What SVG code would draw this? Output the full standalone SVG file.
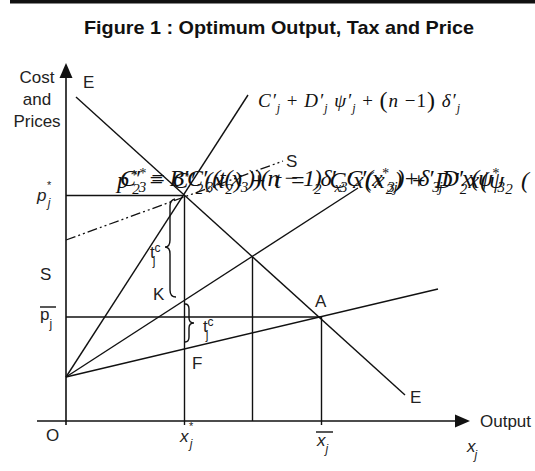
<svg xmlns="http://www.w3.org/2000/svg" width="535" height="471" viewBox="0 0 535 471">
<style>
.ln{stroke:#111;stroke-width:1.4;fill:none}
.ax{stroke:#111;stroke-width:1.6;fill:none}
.dd{stroke:#111;stroke-width:1.3;fill:none;stroke-dasharray:10 3 2 3 2 3}
.s{font-family:"Liberation Sans",Arial,sans-serif;font-size:17px;fill:#222}
.si{font-family:"Liberation Sans",Arial,sans-serif;font-size:17px;font-style:italic;fill:#222}
.m{font-family:"Liberation Serif","Times New Roman",serif;font-style:italic;font-size:19px;fill:#111}
.g{font-family:"Liberation Serif","Times New Roman",serif;font-style:italic;font-size:24px;fill:#111}
.t{font-family:"Liberation Sans",Arial,sans-serif;font-weight:bold;font-size:19px;fill:#111}
</style>
<rect x="10" y="0" width="525" height="3.5" fill="#111"/>
<text class="t" x="84" y="34" textLength="390" lengthAdjust="spacingAndGlyphs">Figure 1 : Optimum Output, Tax and Price</text>

<g id="connectors">
  <line class="ax" x1="66" y1="76" x2="66" y2="425"/>
  <polygon points="66,63 59.5,78 72.5,78" fill="#111"/>
  <line class="ax" x1="37" y1="421" x2="457" y2="421"/>
  <polygon points="470,421 455,414.5 455,427.5" fill="#111"/>
  <line class="ln" x1="184.5" y1="421" x2="184.5" y2="425"/>
  <line class="ln" x1="321.5" y1="421" x2="321.5" y2="425"/>
  <line class="ln" x1="76" y1="97" x2="405" y2="395"/>
  <line class="ln" x1="66" y1="377" x2="248" y2="95"/>
  <line class="ln" x1="66" y1="377" x2="358" y2="188"/>
  <line class="ln" x1="66" y1="377" x2="438" y2="289"/>
  <line class="dd" x1="66" y1="240" x2="283" y2="161"/>
  <line class="ln" x1="66" y1="195.5" x2="184.5" y2="195.5"/>
  <line class="ln" x1="66" y1="317" x2="321.5" y2="317"/>
  <line class="ln" x1="184.5" y1="195.5" x2="184.5" y2="421"/>
  <line class="ln" x1="252.5" y1="257" x2="252.5" y2="421"/>
  <line class="ln" x1="321.5" y1="317" x2="321.5" y2="421"/>
  <path class="ln" stroke-width="1.2" d="M175,199 Q170,200 170,206 L170,240 Q170,247 165,247 Q170,247 170,254 L170,290 Q170,297 176,297"/>
  <path class="ln" stroke-width="1.2" d="M185,304 Q189,304 189,309 L189,318 Q189,323 194,323 Q189,323 189,328 L189,337 Q189,342 185,342"/>
</g>

<g id="label-axes">
  <text class="s" x="37" y="83" text-anchor="middle">Cost</text>
  <text class="s" x="37" y="105" text-anchor="middle">and</text>
  <text class="s" x="37" y="127" text-anchor="middle">Prices</text>
  <text class="s" x="480" y="427">Output</text>
  <text class="si" x="467" y="452">x<tspan font-size="12" dx="-1" dy="7">j</tspan></text>
  <text class="s" x="46" y="441">O</text>
</g>
<g id="label-E"><text class="s" x="83" y="88">E</text><text class="s" x="410" y="403">E</text></g>
<g id="label-pstar"><text class="si" x="37" y="201">p<tspan font-size="11" dy="-12">*</tspan><tspan font-size="12" dx="-3" dy="18">j</tspan></text></g>
<g id="label-S"><text class="s" x="40" y="280">S</text><text class="s" x="286" y="167" font-size="15">S</text></g>
<g id="label-pbar"><text class="s" x="40" y="320">p<tspan font-size="12" dy="8">j</tspan></text><line class="ln" stroke-width="1.2" x1="40" y1="307" x2="56" y2="307"/></g>
<g id="label-K"><text class="s" x="153" y="300">K</text></g>
<g id="label-A"><text class="s" x="315" y="307">A</text></g>
<g id="label-F"><text class="s" x="192" y="369">F</text></g>
<g id="label-t1"><text class="s" x="150" y="258">t<tspan font-size="12" dx="-2" dy="7">j</tspan><tspan font-size="12" dx="-1" dy="-13">c</tspan></text></g>
<g id="label-t2"><text class="s" x="203" y="332">t<tspan font-size="12" dx="-2" dy="7">j</tspan><tspan font-size="12" dx="-1" dy="-13">c</tspan></text></g>
<g id="label-xstar"><text class="si" x="180" y="442">x<tspan font-size="11" dy="-12">*</tspan><tspan font-size="12" dx="-3" dy="18">j</tspan></text></g>
<g id="label-xbar"><text class="si" x="317" y="446">x<tspan font-size="12" dy="7">j</tspan></text><line class="ln" stroke-width="1.2" x1="316" y1="432" x2="333" y2="432"/></g>

<g id="label-MC">
  <text class="m" x="258" y="107" textLength="202" lengthAdjust="spacing">C′<tspan font-size="12" dy="5">j</tspan><tspan font-style="normal" dy="-5"> + </tspan>D′<tspan font-size="12" dy="5">j</tspan><tspan dy="-5"> ψ′</tspan><tspan font-size="12" dy="5">j</tspan><tspan font-style="normal" dy="-5"> + </tspan><tspan font-style="normal" font-size="24" dy="1">(</tspan><tspan dy="-1">n</tspan><tspan font-style="normal"> −1</tspan><tspan font-style="normal" font-size="24" dy="1">)</tspan><tspan dy="-1"> δ′</tspan><tspan font-size="12" dy="5">j</tspan></text>
</g>

<g id="label-overlap">
  <text class="g" x="117" y="188" textLength="412" lengthAdjust="spacing">p<tspan font-size="14" dy="-8">*</tspan><tspan font-size="15" dx="-6" dy="14">2</tspan><tspan dy="-6"> = C′</tspan><tspan font-size="15" dy="6">2</tspan><tspan dy="-6">(x</tspan><tspan font-size="15" dy="6">2</tspan><tspan dy="-6">) + t = </tspan><tspan font-size="15" dy="6">2</tspan><tspan dy="-6"> C′x(x</tspan><tspan font-size="15" dy="6">2</tspan><tspan dy="-6">) + D′</tspan><tspan font-size="15" dy="6">2</tspan><tspan dy="-6">x(ψ</tspan><tspan font-size="15" dy="6">2</tspan><tspan dy="-6"> (</tspan></text>
  <text class="g" x="120" y="186" textLength="385" lengthAdjust="spacing">C′<tspan font-size="14" dy="-8">*</tspan><tspan font-size="15" dx="-6" dy="14">3</tspan><tspan dy="-6"> = B′C′</tspan><tspan font-size="15" dy="6">3</tspan><tspan dy="-6">(t(x</tspan><tspan font-size="15" dy="6">3</tspan><tspan dy="-6">))(n − 1)δ′</tspan><tspan font-size="15" dy="6">x3</tspan><tspan dy="-6">C′(x</tspan><tspan font-size="14" dy="-8">*</tspan><tspan font-size="15" dy="14">3j</tspan><tspan dy="-6">)+δ′</tspan><tspan font-size="15" dy="6">3j</tspan><tspan dy="-6">D′x(ψ</tspan><tspan font-size="14" dy="-8">*</tspan><tspan font-size="15" dy="14">3</tspan></text>
</g>
</svg>
